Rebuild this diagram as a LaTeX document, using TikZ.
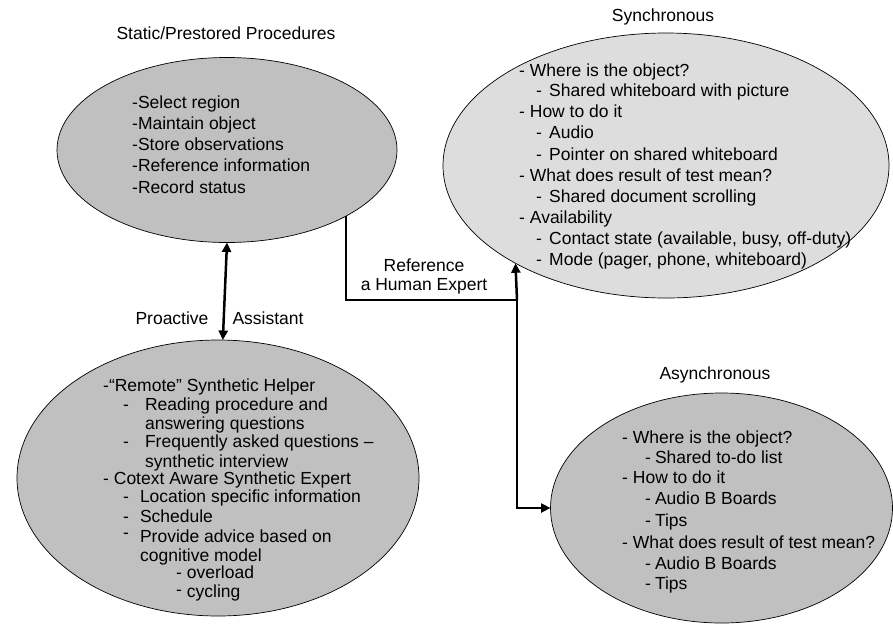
\documentclass[tikz,border=0pt]{standalone}
\usepackage{fontspec}
\setmainfont{Liberation Sans}
\usetikzlibrary{shapes.geometric,arrows.meta}
\definecolor{blobgray}{HTML}{C0C0C0}
\definecolor{lightblob}{HTML}{DDDDDD}
\begin{document}
\begin{tikzpicture}[x=1pt,y=-1pt,
  blob/.style={ellipse,draw=black,line width=0.7pt,fill=blobgray,inner sep=0pt,outer sep=0pt},
  line/.style={anchor=west,inner sep=0pt,text height=12.6pt,text depth=0pt,font=\fontsize{17.5}{21}\selectfont},
  caption/.style={inner sep=0pt,font=\fontsize{17.5}{19}\selectfont,align=center},
  conn/.style={line width=2.5pt,-{Triangle[length=9.5pt,width=9pt]}},
  conn2/.style={line width=2.5pt,{Triangle[length=9.5pt,width=9pt]}-{Triangle[length=9.5pt,width=9pt]}}]
\path[use as bounding box] (0,0) rectangle (893,624);

% the four groups
\node[blob,minimum width=340pt,minimum height=185pt] (tl) at (227,150) {};
\node[blob,minimum width=402pt,minimum height=276pt] (bl) at (218,478) {};
\node[blob,fill=lightblob,minimum width=446pt,minimum height=265pt] (sync) at (666,165.5) {};
\node[blob,minimum width=342pt,minimum height=230pt] (async) at (721.5,508) {};

% titles
\node[caption] (ttl) at (226,33) {Static/Prestored Procedures};
\node[caption] (tsync) at (663,17) {Synchronous};
\node[caption] (tasync) at (715,375) {Asynchronous};

% static procedures
\node[line] (s1) at (132,102) {-Select region};
\node[line] (s2) at (132,123) {-Maintain object};
\node[line] (s3) at (132,144) {-Store observations};
\node[line] (s4) at (132,165) {-Reference information};
\node[line] (s5) at (132,187) {-Record status};

% synchronous channel
\node[line] (y1) at (519,70) {- Where is the object?};
\node[line] (y2) at (536,90) {-\hspace{7.2pt}Shared whiteboard with picture};
\node[line] (y3) at (519,111) {- How to do it};
\node[line] (y4) at (536,132) {-\hspace{7.2pt}Audio};
\node[line] (y5) at (536,154) {-\hspace{7.2pt}Pointer on shared whiteboard};
\node[line] (y6) at (519,175) {- What does result of test mean?};
\node[line] (y7) at (536,196) {-\hspace{7.2pt}Shared document scrolling};
\node[line] (y8) at (519,217) {- Availability};
\node[line] (y9) at (536,238) {-\hspace{7.2pt}Contact state (available, busy, off-duty)};
\node[line] (y10) at (536,259) {-\hspace{7.2pt}Mode (pager, phone, whiteboard)};

% asynchronous channel
\node[line] (a1) at (622,437) {- Where is the object?};
\node[line] (a2) at (645,457) {-\hspace{4pt}Shared to-do list};
\node[line] (a3) at (622,477) {- How to do it};
\node[line] (a4) at (645,498) {-\hspace{4pt}Audio B Boards};
\node[line] (a5) at (645,520) {-\hspace{4pt}Tips};
\node[line] (a6) at (622,542) {- What does result of test mean?};
\node[line] (a7) at (645,563) {-\hspace{4pt}Audio B Boards};
\node[line] (a8) at (645,583) {-\hspace{4pt}Tips};

% synthetic helpers
\node[line] (b1) at (103,385) {-“Remote” Synthetic Helper};
\node[line] (b2) at (123,404) {-\hspace{16pt}Reading procedure and};
\node[line] (b3) at (145,423) {answering questions};
\node[line] (b4) at (123,441) {-\hspace{16pt}Frequently asked questions –};
\node[line] (b5) at (145,461) {synthetic interview};
\node[line] (b6) at (103,478) {- Cotext Aware Synthetic Expert};
\node[line] (b7) at (123,496) {-\hspace{11pt}Location specific information};
\node[line] (b8) at (123,516) {-\hspace{11pt}Schedule};
\node[line] (b9) at (123,536) {\raisebox{4pt}{-}\hspace{11pt}Provide advice based on};
\node[line] (b10) at (140,555) {cognitive model};
\node[line] (b11) at (176,572) {- overload};
\node[line] (b12) at (176,591) {\raisebox{2pt}{-} cycling};

% connector labels
\node[caption] (lref) at (424,276) {Reference\\a Human Expert};
\node[caption] (lpro) at (172,318) {Proactive};
\node[caption] (lass) at (268,318) {Assistant};

% connectors
\coordinate (j) at (517,300);
\draw[conn2] (tl.south) -- (bl.88);
\draw[line width=2.5pt] (tl.-29.2) |- (j);
\draw[conn] (j) -- (sync.213.6);
\draw[conn] (j) |- (async.west);
\end{tikzpicture}
\end{document}
